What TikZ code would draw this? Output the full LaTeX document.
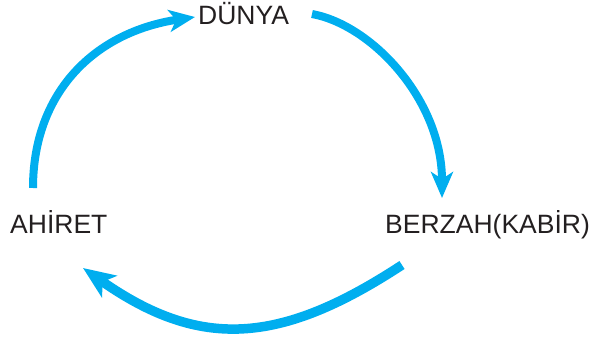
\documentclass[tikz,border=0pt]{standalone}
\usepackage{fontspec}
\setmainfont{Liberation Sans}
\usetikzlibrary{arrows.meta}
\definecolor{arrowblue}{HTML}{00AEEF}
\definecolor{txt}{HTML}{231F20}
\tikzset{
  lbl/.style={anchor=base west, inner sep=0pt, text=txt, font=\fontsize{26.5}{30}\selectfont},
  cyc/.style={draw=arrowblue, line width=8pt, -{Stealth[length=26pt,width=22pt,inset=7pt]}},
  cycbig/.style={draw=arrowblue, line width=9.5pt, -{Stealth[length=32pt,width=26pt,inset=8pt]}}
}
\begin{document}
\begin{tikzpicture}[x=1pt,y=-1pt]
\useasboundingbox (0,0) rectangle (592,340);
\node[lbl] (dunya) at (198,24) {DÜNYA};
\node[lbl] (ahiret) at (10,233) {AHİRET};
\node[lbl] (berzah) at (385,233) {BERZAH(KABİR)};
\coordinate (a1s) at (33,188);
\coordinate (a1e) at (195,17);
\coordinate (a2s) at (312,14);
\coordinate (a2e) at (442,198);
\coordinate (a3s) at (402,265);
\coordinate (a3e) at (83,268);
\draw[cyc] (a1s) .. controls (33,92) and (95,32) .. (a1e);
\draw[cyc] (a2s) .. controls (372,25) and (442,100) .. (a2e);
\draw[cycbig] (a3s) .. controls (280,345) and (200,350) .. (a3e);
\end{tikzpicture}
\end{document}
